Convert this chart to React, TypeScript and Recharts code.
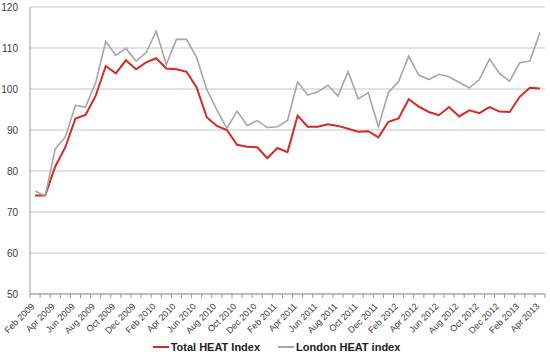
import React from "react";
import { LineChart, Line, XAxis, YAxis, CartesianGrid, Legend } from "recharts";

const months = [
  "Feb 2009","Mar 2009","Apr 2009","May 2009","Jun 2009","Jul 2009","Aug 2009","Sep 2009","Oct 2009","Nov 2009","Dec 2009",
  "Jan 2010","Feb 2010","Mar 2010","Apr 2010","May 2010","Jun 2010","Jul 2010","Aug 2010","Sep 2010","Oct 2010","Nov 2010","Dec 2010",
  "Jan 2011","Feb 2011","Mar 2011","Apr 2011","May 2011","Jun 2011","Jul 2011","Aug 2011","Sep 2011","Oct 2011","Nov 2011","Dec 2011",
  "Jan 2012","Feb 2012","Mar 2012","Apr 2012","May 2012","Jun 2012","Jul 2012","Aug 2012","Sep 2012","Oct 2012","Nov 2012","Dec 2012",
  "Jan 2013","Feb 2013","Mar 2013","Apr 2013",
];

const totalHeat = [
  74.0, 74.0, 81.1, 85.8, 92.8, 93.7, 98.3, 105.6, 103.8, 107.0, 104.8,
  106.5, 107.5, 105.0, 104.8, 104.2, 100.4, 93.1, 91.0, 90.0, 86.4, 85.9, 85.8,
  83.1, 85.6, 84.6, 93.5, 90.8, 90.8, 91.4, 91.0, 90.3, 89.6, 89.7, 88.2,
  92.0, 92.8, 97.5, 95.7, 94.4, 93.6, 95.6, 93.3, 94.8, 94.1, 95.6, 94.5,
  94.4, 98.1, 100.3, 100.1,
];

const londonHeat = [
  75.1, 73.9, 85.4, 88.3, 96.0, 95.6, 101.5, 111.6, 108.2, 109.9, 106.8,
  108.9, 114.1, 106.0, 112.1, 112.1, 107.7, 99.9, 94.9, 90.4, 94.6, 91.1, 92.3,
  90.6, 90.8, 92.3, 101.7, 98.5, 99.3, 100.9, 98.3, 104.2, 97.6, 99.1, 90.8,
  99.2, 101.8, 108.0, 103.4, 102.3, 103.6, 103.0, 101.6, 100.3, 102.3, 107.3, 103.8,
  101.9, 106.4, 106.8, 113.8,
];

const yTicks = [50, 60, 70, 80, 90, 100, 110, 120];

const data = months.map((m, i) => ({ month: m, total: totalHeat[i], london: londonHeat[i] }));

const W = 550;
const H = 360;
const MARGIN = { top: 7, right: 5, left: 0, bottom: 5 };
const Y_W = 30;
const PLOT_W = W - MARGIN.right - Y_W - MARGIN.left;
const STEP = PLOT_W / months.length;

const XTick = (props: any) => {
  const { x, y, payload, index } = props;
  const half = STEP / 2;
  const i = typeof index === "number" ? index : months.indexOf(payload.value);
  const ax = x;
  const ay = y + 13;
  return (
    <g>
      <line x1={x - half} x2={x - half} y1={y} y2={y + 4} stroke="#999" />
      {i === months.length - 1 && (
        <line x1={x + half} x2={x + half} y1={y} y2={y + 4} stroke="#999" />
      )}
      {i % 2 === 0 && (
        <text
          x={ax}
          y={ay}
          transform={`rotate(-45, ${ax}, ${ay})`}
          textAnchor="end"
          fontSize={9}
          fontFamily="Liberation Sans, Arial, sans-serif"
          fill="#404040"
        >
          {payload.value}
        </text>
      )}
    </g>
  );
};

const LegendContent = () => (
  <div
    style={{
      display: "flex",
      justifyContent: "center",
      alignItems: "center",
      gap: 18,
      fontFamily: "Liberation Sans, Arial, sans-serif",
      fontWeight: "bold",
      fontSize: 11,
      color: "#222",
      paddingLeft: 8,
      paddingTop: 6,
    }}
  >
    <span style={{ display: "flex", alignItems: "center" }}>
      <span style={{ display: "inline-block", width: 16, height: 2, background: "#d42a20", marginRight: 2 }} />
      Total HEAT Index
    </span>
    <span style={{ display: "flex", alignItems: "center" }}>
      <span style={{ display: "inline-block", width: 16, height: 2, background: "#a6a6a6", marginRight: 2 }} />
      London HEAT index
    </span>
  </div>
);

export default function App() {
  return (
    <div style={{ position: "absolute", left: 0, top: 0, width: W, height: H, background: "#fff" }}>
      <LineChart width={W} height={H} data={data} margin={MARGIN}>
        <CartesianGrid vertical={false} stroke="#c4c4c4" />
        <XAxis
          dataKey="month"
          scale="band"
          interval={0}
          tickLine={false}
          tickSize={0}
          tickMargin={0}
          height={41}
          axisLine={{ stroke: "#999" }}
          tick={<XTick />}
        />
        <YAxis
          domain={[50, 120]}
          ticks={yTicks}
          width={Y_W}
          tickLine={false}
          tickMargin={6}
          axisLine={{ stroke: "#999" }}
          tick={{ fontSize: 10, fill: "#404040", fontFamily: "Liberation Sans, Arial, sans-serif" }}
          interval={0}
        />
        <Legend verticalAlign="bottom" height={20} content={<LegendContent />} />
        <Line
          dataKey="total"
          name="Total HEAT Index"
          stroke="#d42a20"
          strokeWidth={2}
          dot={false}
          isAnimationActive={false}
        />
        <Line
          dataKey="london"
          name="London HEAT index"
          stroke="#a6a6a6"
          strokeWidth={1.6}
          dot={false}
          isAnimationActive={false}
        />
      </LineChart>
    </div>
  );
}
